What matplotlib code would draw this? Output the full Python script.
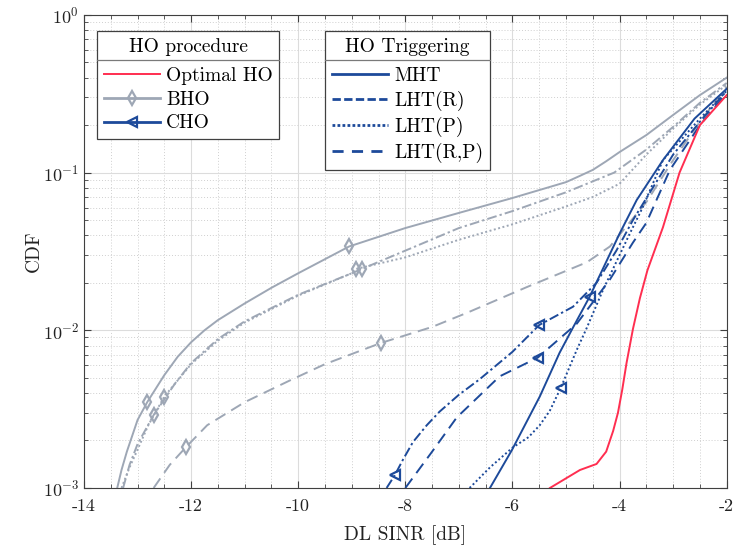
import numpy as np
import matplotlib as mpl
mpl.use('Agg')
import matplotlib.pyplot as plt
from matplotlib.lines import Line2D
from matplotlib.ticker import MultipleLocator, LogLocator, NullFormatter

mpl.rcParams['font.family'] = 'serif'
mpl.rcParams['font.serif'] = ['cmr10', 'DejaVu Serif']
mpl.rcParams['mathtext.fontset'] = 'cm'
mpl.rcParams['axes.formatter.use_mathtext'] = True
mpl.rcParams['axes.unicode_minus'] = False

RED = '#FF2E50'
GRAY = '#9EA7B5'
BLUE = '#1D4A9A'

# --- data ---
opt_x = [-5.3, -4.74, -4.43, -4.25, -4.12, -4.03, -3.95, -3.87, -3.75, -3.62, -3.48, -3.19, -2.88, -2.5, -2.0]
opt_y = [1.0e-3, 1.3e-3, 1.42e-3, 1.7e-3, 2.3e-3, 3.0e-3, 4.2e-3, 6.2e-3, 1.02e-2, 1.6e-2, 2.4e-2,
         4.5e-2, 0.1, 0.2, 0.31]

bho_mht_x = [-13.38, -13.3, -13.2, -13.0, -12.82, -12.5, -12.25, -12.0, -11.75, -11.5, -11.0, -10.5, -10.0,
             -9.05, -8.0, -7.0, -6.0, -5.0, -4.75, -4.5, -4.25, -4.0, -3.5, -3.0, -2.5, -2.0]
bho_mht_y = [1.0e-3, 1.3e-3, 1.7e-3, 2.7e-3, 3.5e-3, 5.2e-3, 6.8e-3, 8.4e-3, 1.0e-2, 1.16e-2, 1.48e-2,
             1.86e-2, 2.3e-2, 3.4e-2, 4.45e-2, 5.55e-2, 6.9e-2, 8.7e-2, 9.5e-2, 0.104, 0.118, 0.135, 0.173,
             0.232, 0.31, 0.40]

bho_r_x = [-13.27, -13.15, -13.0, -12.7, -12.3, -12.0, -11.5, -11.0, -10.0, -9.0, -8.81, -8.0, -7.0,
           -6.0, -5.0, -4.5, -4.1, -3.5, -3.0, -2.5, -2.0]
bho_r_y = [1.0e-3, 1.4e-3, 1.9e-3, 2.9e-3, 4.6e-3, 6.2e-3, 8.8e-3, 1.14e-2, 1.68e-2, 2.3e-2, 2.45e-2,
           3.2e-2, 4.45e-2, 5.7e-2, 7.5e-2, 8.8e-2, 0.1, 0.14, 0.195, 0.277, 0.37]

bho_p_x = [-13.3, -13.15, -13.0, -12.8, -12.5, -12.0, -11.5, -11.0, -10.0, -9.0, -8.92, -8.0, -7.0,
           -6.0, -5.0, -4.5, -4.0, -3.5, -3.0, -2.5, -2.0]
bho_p_y = [1.0e-3, 1.35e-3, 1.75e-3, 2.5e-3, 3.8e-3, 6.1e-3, 8.6e-3, 1.12e-2, 1.66e-2, 2.3e-2, 2.45e-2,
           2.9e-2, 3.75e-2, 4.7e-2, 6.1e-2, 7.0e-2, 8.5e-2, 0.13, 0.19, 0.27, 0.36]

bho_rp_x = [-12.7, -12.4, -12.1, -11.7, -11.0, -10.16, -9.5, -8.46, -7.5, -6.85, -5.73,
            -4.61, -4.18, -3.5, -3.0, -2.5, -2.0]
bho_rp_y = [1.0e-3, 1.4e-3, 1.81e-3, 2.5e-3, 3.5e-3, 4.8e-3, 6.1e-3, 8.3e-3, 1.05e-2, 1.29e-2, 1.88e-2,
            2.7e-2, 3.4e-2, 6.5e-2, 0.12, 0.21, 0.35]

cho_mht_x = [-6.42, -6.01, -5.49, -5.12, -4.87, -4.56, -4.0, -3.68, -3.19, -2.6, -2.0]
cho_mht_y = [1.0e-3, 1.74e-3, 3.8e-3, 7.2e-3, 1.04e-2, 1.63e-2, 4.1e-2, 6.7e-2, 0.12, 0.22, 0.34]

cho_r_x = [-8.35, -8.2, -8.05, -7.86, -7.6, -7.36, -7.0, -6.61, -6.0, -5.5, -4.87, -4.43, -4.06, -3.75,
           -3.0, -2.5, -2.0]
cho_r_y = [1.0e-3, 1.2e-3, 1.5e-3, 1.95e-3, 2.5e-3, 3.05e-3, 3.9e-3, 4.9e-3, 7.3e-3, 1.08e-2, 1.41e-2,
           2.0e-2, 3.2e-2, 5.0e-2, 0.13, 0.21, 0.33]

cho_p_x = [-6.8, -6.42, -6.0, -5.7, -5.49, -5.3, -5.1, -4.8, -4.61, -4.31, -3.81, -3.57, -3.19, -2.5, -2.0]
cho_p_y = [1.0e-3, 1.35e-3, 1.8e-3, 2.1e-3, 2.5e-3, 3.1e-3, 4.3e-3, 7.5e-3, 1.04e-2, 1.8e-2, 4.1e-2,
           6.0e-2, 0.12, 0.22, 0.33]

cho_rp_x = [-8.0, -7.5, -7.04, -6.24, -5.53, -4.8, -4.18, -3.75, -3.5, -3.06, -2.5, -2.0]
cho_rp_y = [1.0e-3, 1.7e-3, 2.8e-3, 5.1e-3, 6.7e-3, 1.1e-2, 2.1e-2, 3.6e-2, 4.8e-2, 0.104, 0.2, 0.32]

xticks = [-14, -12, -10, -8, -6, -4, -2]
xticklabels = ['-14', '-12', '-10', '-8', '-6', '-4', '-2']

dashdot = (0, (5, 1.6, 1.2, 1.6))
dotted = (0, (1, 1.3))
dashed = (0, (6, 3.5))
lw = 1.4
bho_mk = dict(marker='d', ms=7, mfc='none', mew=1.6)
cho_mk = dict(marker='<', ms=7, mfc='none', mew=1.6)

fig = plt.figure(figsize=(7.37, 5.52), dpi=100)
ax = fig.add_axes([0.114, 0.116, 0.872, 0.857])

ax.plot(bho_rp_x, bho_rp_y, color=GRAY, ls=dashed, lw=lw, markevery=[2, 7], **bho_mk)
ax.plot(bho_p_x, bho_p_y, color=GRAY, ls=dotted, lw=lw, markevery=[4, 10], **bho_mk)
ax.plot(bho_r_x, bho_r_y, color=GRAY, ls=dashdot, lw=lw, markevery=[3, 10], **bho_mk)
ax.plot(bho_mht_x, bho_mht_y, color=GRAY, ls='-', lw=lw, markevery=[4, 13], **bho_mk)

ax.plot(cho_rp_x, cho_rp_y, color=BLUE, ls=dashed, lw=lw, markevery=[4], **cho_mk)
ax.plot(cho_p_x, cho_p_y, color=BLUE, ls=dotted, lw=lw, markevery=[6], **cho_mk)
ax.plot(cho_r_x, cho_r_y, color=BLUE, ls=dashdot, lw=lw, markevery=[1, 9], **cho_mk)
ax.plot(cho_mht_x, cho_mht_y, color=BLUE, ls='-', lw=lw, markevery=[5], **cho_mk)

ax.plot(opt_x, opt_y, color=RED, ls='-', lw=lw)

ax.set_yscale('log')
ax.set_xlim(-14, -2)
ax.set_ylim(1e-3, 1)
ax.set_xticks(xticks)
ax.set_xticklabels(xticklabels)
ax.xaxis.set_minor_locator(MultipleLocator(0.5))
ax.yaxis.set_minor_locator(LogLocator(base=10, subs=np.arange(2, 10)))
ax.yaxis.set_minor_formatter(NullFormatter())
ax.tick_params(which='both', direction='in', top=True, right=True, colors='#404040',
               labelcolor='#222222', labelsize=13)
ax.tick_params(axis='x', which='major', pad=8)
ax.tick_params(which='major', length=5, width=0.8)
ax.tick_params(which='minor', length=3, width=0.6)
ax.grid(which='major', color='#dcdcdc', lw=0.8, ls='-')
ax.grid(which='minor', color='#cfcfcf', lw=0.7, ls=(0, (1, 2)))
ax.set_axisbelow(True)
for s in ax.spines.values():
    s.set_color('#404040')
    s.set_linewidth(0.8)

ax.set_xlabel('DL SINR [dB]', fontsize=14, color='#222222', labelpad=8)
ax.set_ylabel('CDF', fontsize=14, color='#222222', labelpad=0)

# legends
h1 = [Line2D([], [], color=RED, lw=lw),
      Line2D([], [], color=GRAY, lw=2, **bho_mk),
      Line2D([], [], color=BLUE, lw=2, **cho_mk)]
h2 = [Line2D([], [], color=BLUE, lw=2, ls='-'),
      Line2D([], [], color=BLUE, lw=2, ls=(0, (3, 1.2))),
      Line2D([], [], color=BLUE, lw=2, ls=(0, (1, 0.8))),
      Line2D([], [], color=BLUE, lw=2, ls=(0, (4, 3)))]

leg_kw = dict(loc='upper left', fontsize=14, title_fontsize=14, fancybox=False, framealpha=1,
              edgecolor='#404040', borderaxespad=0, handlelength=2.9, handletextpad=0.3,
              labelspacing=0.3, borderpad=0.35, numpoints=1)
leg1 = ax.legend(h1, ['Optimal HO', 'BHO', 'CHO'], title='HO procedure',
                 bbox_to_anchor=(0.02, 0.966), **leg_kw)
ax.add_artist(leg1)
leg2 = ax.legend(h2, ['MHT', 'LHT(R)', 'LHT(P)', 'LHT(R,P)'], title='HO Triggering',
                 bbox_to_anchor=(0.375, 0.966), **leg_kw)
for lg in (leg1, leg2):
    lg.get_frame().set_linewidth(0.9)
    lg._legend_box.sep = 8

# horizontal separator under each legend title
fig.canvas.draw()
r = fig.canvas.get_renderer()
for lg in (leg1, leg2):
    fb = lg.get_frame().get_window_extent(r)
    tb = lg.get_title().get_window_extent(r)
    yy = tb.y0 - 4
    x0, y0 = fig.transFigure.inverted().transform((fb.x0, yy))
    x1, _ = fig.transFigure.inverted().transform((fb.x1, yy))
    fig.add_artist(Line2D([x0, x1], [y0, y0], color='#7a7a7a', lw=0.9, zorder=10))

fig.savefig('out.png', dpi=100)
